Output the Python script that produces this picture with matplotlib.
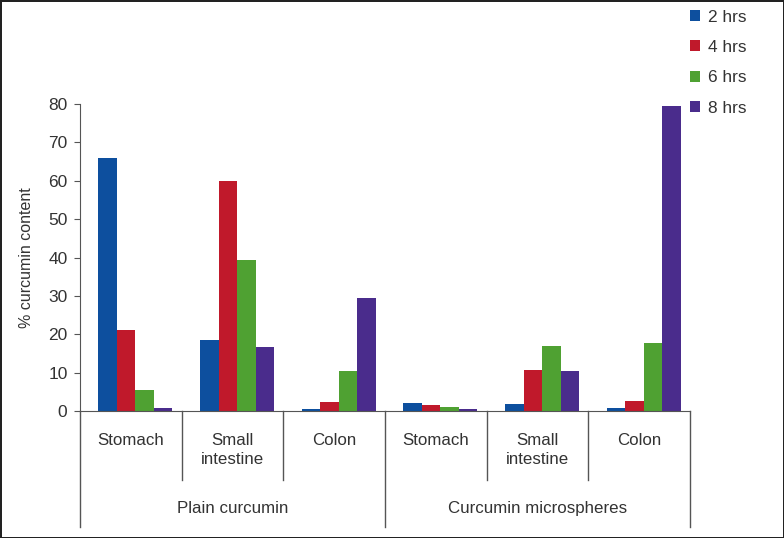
import matplotlib.pyplot as plt
import matplotlib.transforms as mtransforms
from matplotlib.lines import Line2D

# --- DATA ---
organs = ["Stomach", "Small\nintestine", "Colon", "Stomach", "Small\nintestine", "Colon"]
groups = ["Plain curcumin", "Curcumin microspheres"]
series = ["2 hrs", "4 hrs", "6 hrs", "8 hrs"]
hrs2 = [65.9, 18.5, 0.6, 2.1, 1.8, 0.8]
hrs4 = [21.0, 60.0, 2.4, 1.6, 10.7, 2.6]
hrs6 = [5.5, 39.3, 10.4, 1.0, 17.0, 17.7]
hrs8 = [0.8, 16.7, 29.4, 0.5, 10.4, 79.4]
yticks = [0, 10, 20, 30, 40, 50, 60, 70, 80]

colors = ["#0d4f9e", "#c0192b", "#4fa132", "#4a2c8c"]
txt = "#333333"

plt.rcParams['font.family'] = ['Liberation Sans', 'DejaVu Sans']

fig = plt.figure(figsize=(7.84, 5.38), dpi=100)
fig.patch.set_edgecolor("#222222")
fig.patch.set_linewidth(2)
ax = fig.add_axes([80 / 784, 127 / 538, 610 / 784, 307 / 538])

w = 0.182
shift = 0.045  # bars sit a little right of the group centre in the original
x = list(range(len(organs)))
for k, vals in enumerate([hrs2, hrs4, hrs6, hrs8]):
    ax.bar([i + shift + (k - 1.5) * w for i in x], vals, width=w, color=colors[k],
           label=series[k])

ax.set_xlim(-0.5, 5.5)
ax.set_ylim(0, 80)
ax.set_yticks(yticks)
ax.set_xticks([])
ax.tick_params(axis='y', length=4, color="#555555", labelsize=12.5, labelcolor=txt, pad=5)
for s in ["top", "right"]:
    ax.spines[s].set_visible(False)
for s in ["left", "bottom"]:
    ax.spines[s].set_color("#555555")
ax.set_ylabel("% curcumin content", fontsize=11.5, color=txt, labelpad=10)

# category axis below
tr = mtransforms.blended_transform_factory(ax.transData, ax.transAxes)
for b in range(7):
    xb = b - 0.5
    bottom = -0.378 if b in (0, 3, 6) else -0.225
    ax.add_line(Line2D([xb, xb], [0, bottom], transform=tr, color="#555555",
                       lw=1, clip_on=False))
for i, name in enumerate(organs):
    ax.text(i, -0.072, name, transform=tr, ha="center", va="top", fontsize=12.2,
            color=txt, linespacing=1.3)
for g, name in enumerate(groups):
    ax.text(1 + 3 * g, -0.316, name, transform=tr, ha="center", va="center",
            fontsize=12.2, color=txt)

fig.legend(loc="upper left", bbox_to_anchor=(674 / 784, 1 + 6 / 538), frameon=False,
           fontsize=12.4, handlelength=0.6, handleheight=0.6, handletextpad=0.5,
           labelspacing=0.9, labelcolor=txt)

fig.savefig("out.png", dpi=100)
